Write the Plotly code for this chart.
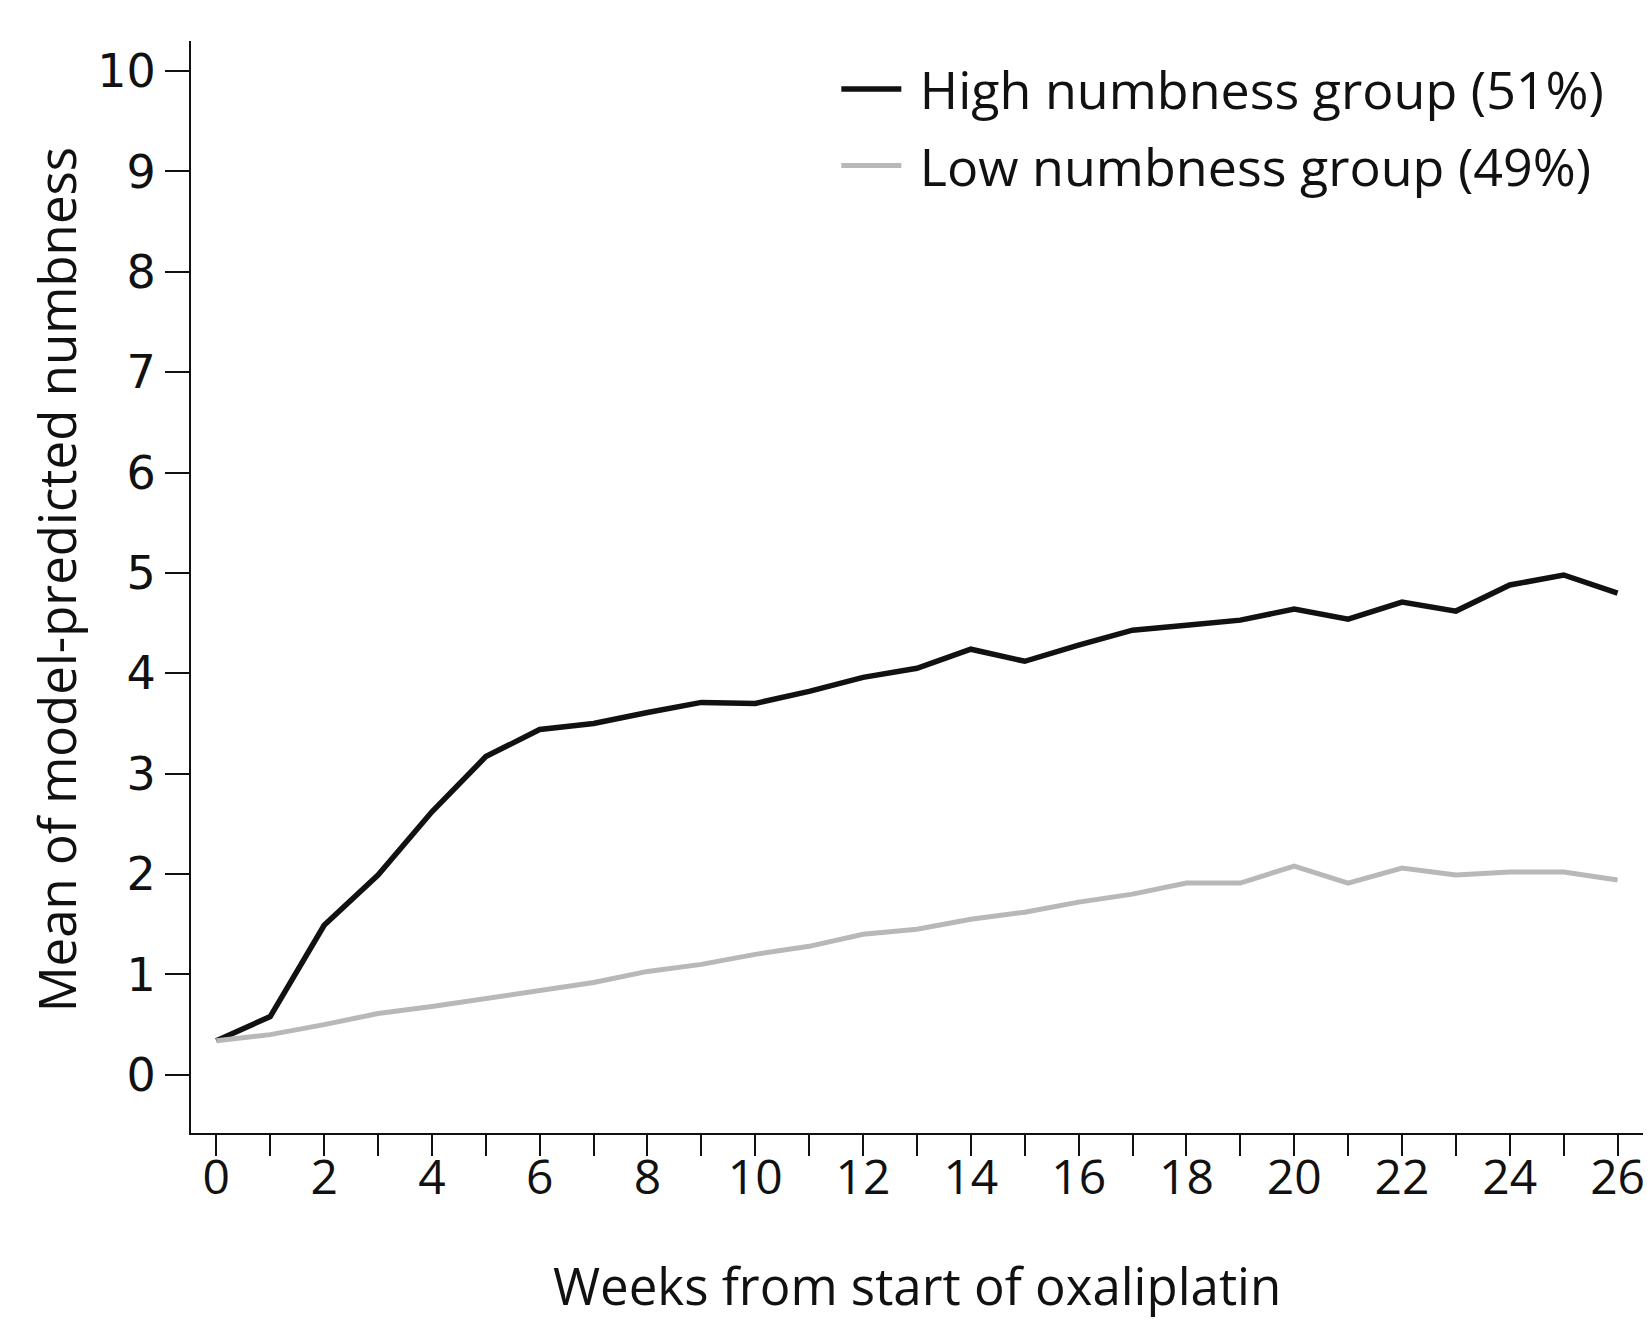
import plotly.graph_objects as go

weeks = list(range(0, 27))
high_group = [0.34, 0.58, 1.49, 1.99, 2.62, 3.17, 3.44, 3.50, 3.61, 3.71, 3.70, 3.82, 3.96, 4.05,
              4.24, 4.12, 4.28, 4.43, 4.48, 4.53, 4.64, 4.54, 4.71, 4.62, 4.88, 4.98, 4.80]
low_group = [0.34, 0.40, 0.50, 0.61, 0.68, 0.76, 0.84, 0.92, 1.03, 1.10, 1.20, 1.28, 1.40, 1.45,
             1.55, 1.62, 1.72, 1.80, 1.91, 1.91, 2.08, 1.91, 2.06, 1.99, 2.02, 2.02, 1.94]
series_names = ["High numbness group (51%)", "Low numbness group (49%)"]
x_tick_vals = list(range(0, 27, 2))
y_tick_vals = list(range(0, 11))
x_title = "Weeks from start of oxaliplatin"
y_title = "Mean of model-predicted numbness"

fig = go.Figure()
fig.add_trace(go.Scatter(x=weeks, y=high_group, mode="lines", name="\u00a0" + series_names[0],
                         legendgroup="high",
                         line=dict(color="#111111", width=5.5)))
fig.add_trace(go.Scatter(x=weeks, y=low_group, mode="lines", name="\u00a0" + series_names[1],
                         legendgroup="low",
                         line=dict(color="#b8b8b8", width=5)))

fig.update_layout(
    width=1651, height=1322,
    margin=dict(l=183, r=8, t=33, b=197),
    paper_bgcolor="white", plot_bgcolor="white",
    font=dict(family="Open Sans", color="#111111"),
    showlegend=True,
    legend=dict(x=0.442, y=0.993, xanchor="left", yanchor="top",
                font=dict(family="Open Sans", size=52, color="#111111"),
                bgcolor="rgba(0,0,0,0)", tracegroupgap=6, itemwidth=60),
    annotations=[
        dict(text=y_title, xref="paper", yref="paper", x=-0.0925, y=0.507,
             xanchor="center", yanchor="middle", textangle=-90, showarrow=False,
             font=dict(family="Open Sans", size=51, color="#111111")),
        dict(text=x_title, xref="paper", yref="paper", x=0.497, y=-0.139,
             xanchor="center", yanchor="middle", showarrow=False,
             font=dict(family="Open Sans", size=51, color="#111111")),
    ],
)
fig.update_xaxes(
    range=[-0.47, 26.62], tickmode="array", tickvals=x_tick_vals,
    ticktext=[str(v) for v in x_tick_vals],
    ticks="outside", ticklen=21, tickwidth=2, tickcolor="#111111",
    minor=dict(dtick=1, tick0=0, ticks="outside", ticklen=21, tickwidth=2, tickcolor="#111111"),
    showline=True, linecolor="#111111", linewidth=2, showgrid=False, zeroline=False,
    tickfont=dict(family="Open Sans", size=48, color="#111111"),
    ticklabelstandoff=-20,
)
fig.update_yaxes(
    range=[-0.58, 10.3], tickmode="array", tickvals=y_tick_vals,
    ticks="outside", ticklen=24, tickwidth=2, tickcolor="#111111",
    showline=True, linecolor="#111111", linewidth=2, showgrid=False, zeroline=False,
    tickfont=dict(family="DejaVu Sans", size=46, color="#111111"),
)

fig.write_html("out.html")
